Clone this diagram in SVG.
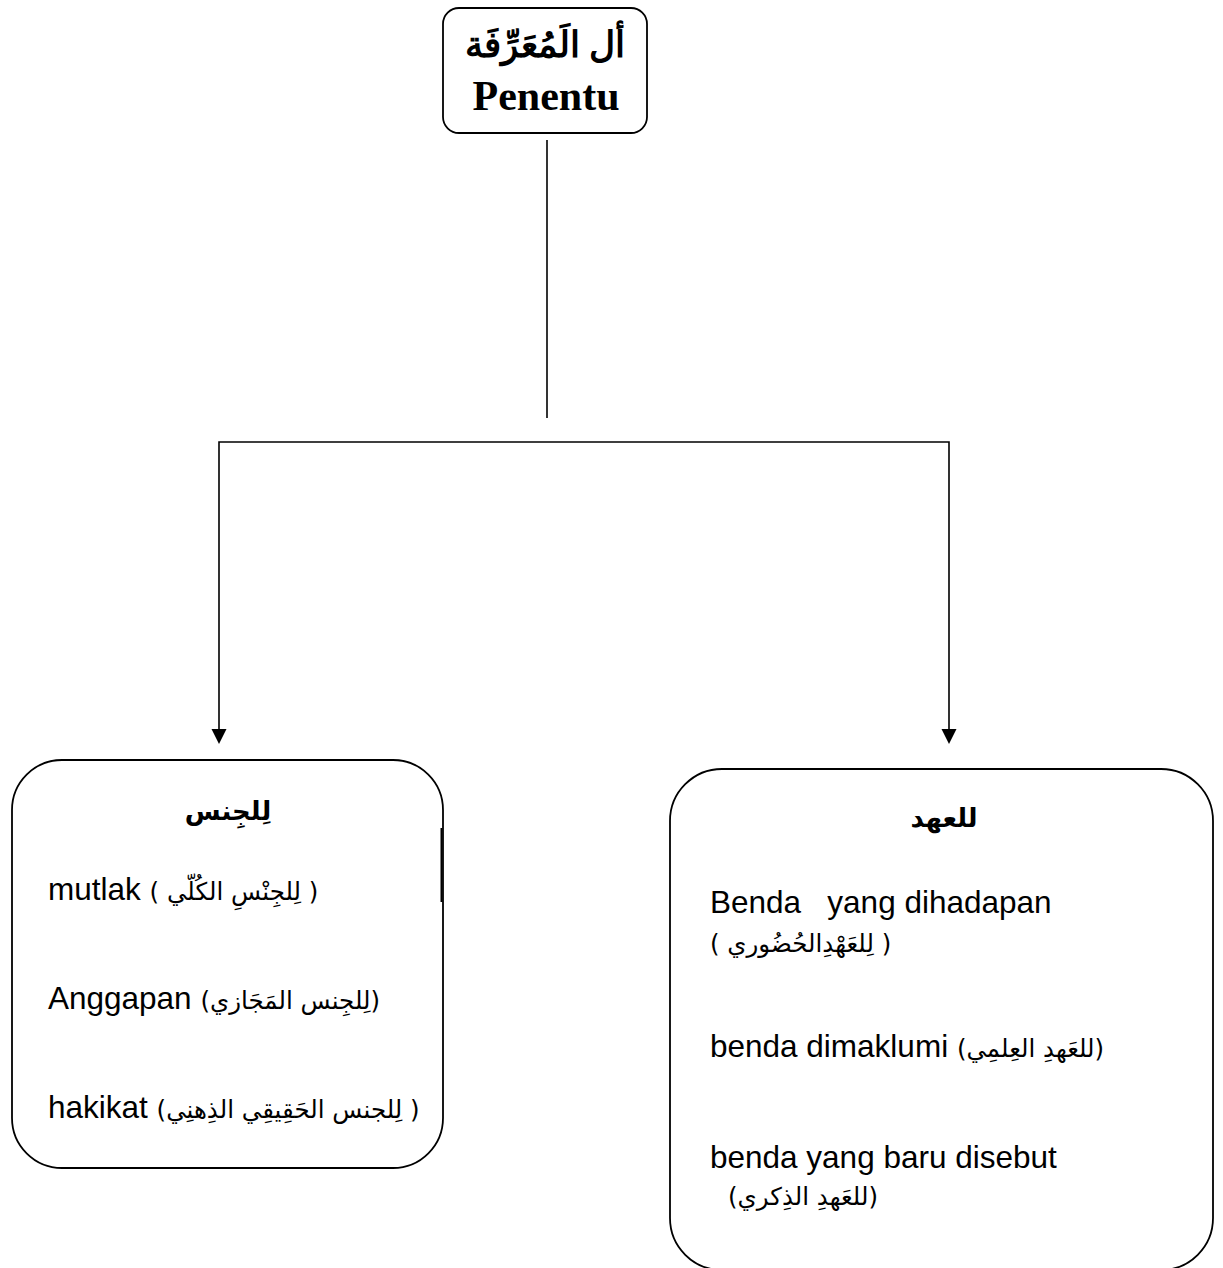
<svg xmlns="http://www.w3.org/2000/svg" width="1223" height="1268" viewBox="0 0 1223 1268">
  <style>
    .box { fill: #ffffff; stroke: #000000; stroke-width: 1.8; }
    .wire { fill: none; stroke: #000000; stroke-width: 1.6; }
    .head { font-family: "Liberation Serif", "DejaVu Serif", serif; font-weight: bold; fill: #000; }
    .ar-title { font-family: "DejaVu Sans", "Liberation Sans", sans-serif; font-weight: bold; font-size: 26px; fill: #000; }
    .item { font-family: "Liberation Sans", "DejaVu Sans", sans-serif; font-size: 31.5px; fill: #000; }
    .ar { font-family: "DejaVu Sans", "Liberation Sans", sans-serif; font-size: 24.5px; fill: #000; }
  </style>
  <rect width="1223" height="1268" fill="#ffffff"/>

  <!-- connectors: trunk, bus and the two drops with filled arrowheads -->
  <g id="connectors">
    <line class="wire" x1="547" y1="140" x2="547" y2="418"/>
    <polyline class="wire" points="219,730 219,442 949,442 949,730"/>
    <path d="M211.5,729 L226.5,729 L219,744 Z" fill="#000"/>
    <path d="M941.5,729 L956.5,729 L949,744 Z" fill="#000"/>
  </g>

  <!-- root node -->
  <g id="node-root">
    <rect class="box" x="443" y="8" width="204" height="125" rx="16"/>
    <text class="head" x="545" y="57" text-anchor="middle" font-size="36" direction="rtl">أل الَمُعَرِّفَة</text>
    <text class="head" x="546" y="110" text-anchor="middle" font-size="42">Penentu</text>
  </g>

  <!-- left node: li al-jins -->
  <g id="node-jins">
    <rect class="box" x="12" y="760" width="431" height="408" rx="50"/>
    <line x1="441.5" y1="828" x2="441.5" y2="902" stroke="#000" stroke-width="2"/>
    <text class="ar-title" x="228" y="820" text-anchor="middle" direction="rtl">لِلجِنس</text>
    <text class="item" x="48" y="900">mutlak <tspan class="ar">( لِلجِنْسِ الكُلّي )</tspan></text>
    <text class="item" x="48" y="1009">Anggapan <tspan class="ar">(لِلجِنس المَجَازي)</tspan></text>
    <text class="item" x="48" y="1118">hakikat <tspan class="ar">(لِلجنس الحَقِيقِي الذِهنِي )</tspan></text>
  </g>

  <!-- right node: li al-'ahd -->
  <g id="node-ahd">
    <rect class="box" x="670" y="769" width="543" height="501" rx="52"/>
    <text class="ar-title" x="944" y="827" text-anchor="middle" direction="rtl">للعهد</text>
    <text class="item" x="710" y="913" xml:space="preserve">Benda   yang dihadapan</text>
    <text class="ar" x="710" y="952">( لِلعَهْدِالحُضُوري )</text>
    <text class="item" x="710" y="1057">benda dimaklumi <tspan class="ar">(للعَهدِ العِلمِي)</tspan></text>
    <text class="item" x="710" y="1168">benda yang baru disebut</text>
    <text class="ar" x="728" y="1205">(للعَهدِ الذِكري)</text>
  </g>
</svg>
